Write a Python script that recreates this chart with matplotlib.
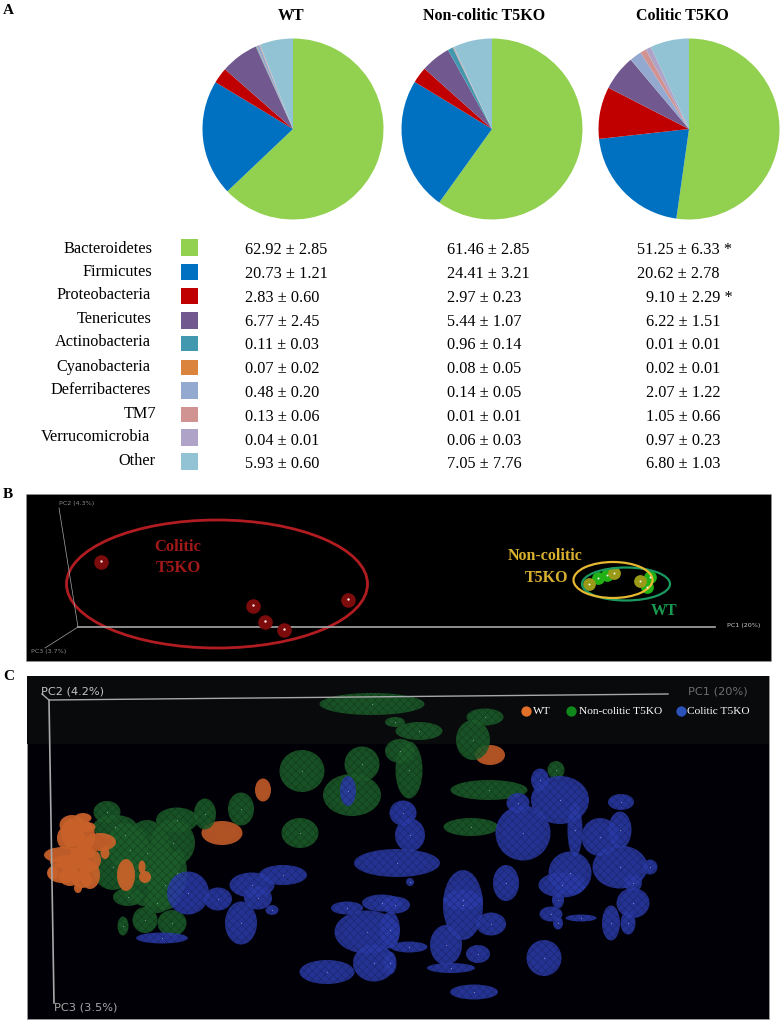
import matplotlib
matplotlib.use("Agg")
import matplotlib.pyplot as plt
from matplotlib.patches import Ellipse, Rectangle

plt.rcParams["font.family"] = ["Liberation Serif", "DejaVu Serif"]
plt.rcParams["hatch.linewidth"] = 0.35

W, H = 782, 1022

phyla = ["Bacteroidetes", "Firmicutes", "Proteobacteria", "Tenericutes", "Actinobacteria",
         "Cyanobacteria", "Deferribacteres", "TM7", "Verrucomicrobia", "Other"]
phylum_colors = ["#92d050", "#0070c0", "#c00000", "#71588f", "#4198af",
                 "#db843d", "#93a9cf", "#d19392", "#b0a3c8", "#92c3d4"]

groups = ["WT", "Non-colitic T5KO", "Colitic T5KO"]
wt_mean = [62.92, 20.73, 2.83, 6.77, 0.11, 0.07, 0.48, 0.13, 0.04, 5.93]
wt_sd = ["2.85", "1.21", "0.60", "2.45", "0.03", "0.02", "0.20", "0.06", "0.01", "0.60"]
nc_mean = [61.46, 24.41, 2.97, 5.44, 0.96, 0.08, 0.14, 0.01, 0.06, 7.05]
nc_sd = ["2.85", "3.21", "0.23", "1.07", "0.14", "0.05", "0.05", "0.01", "0.03", "7.76"]
co_mean = [51.25, 20.62, 9.10, 6.22, 0.01, 0.02, 2.07, 1.05, 0.97, 6.80]
co_sd = ["6.33", "2.78", "2.29", "1.51", "0.01", "0.01", "1.22", "0.66", "0.23", "1.03"]
co_star = [True, False, True, False, False, False, False, False, False, False]

# panel B samples
b_colitic_x = [101, 253, 265, 284, 348]
b_colitic_y = [562, 606, 622, 630, 600]
b_wt_x = [598, 607, 650, 647]
b_wt_y = [578, 575, 577, 587]
b_nc_x = [589, 614, 640]
b_nc_y = [584, 573, 581]

# panel C ellipsoids: x, y, width, height
c_orange_back = [(490, 755, 30, 20), (263, 790, 16, 23), (222, 833, 41, 24)]
c_green = [(372, 704, 105, 22), (419, 731, 47, 18), (395, 722, 20, 10), (400, 751, 30, 24),
           (409, 770, 27, 57), (485, 717, 37, 17), (473, 740, 34, 40), (489, 790, 77, 20),
           (471, 827, 55, 18), (556, 770, 17, 18), (302, 771, 45, 42), (362, 764, 35, 35),
           (352, 795, 58, 42), (300, 833, 37, 30), (241, 809, 26, 33), (205, 814, 22, 31),
           (107, 812, 27, 22), (115, 827, 44, 24), (177, 820, 42, 25), (147, 853, 48, 66),
           (173, 843, 44, 46), (113, 867, 42, 46), (150, 877, 62, 60), (177, 873, 20, 46),
           (128, 897, 30, 18), (157, 903, 26, 20), (145, 920, 25, 26), (172, 923, 29, 26),
           (123, 926, 11, 19), (130, 850, 40, 50), (165, 885, 36, 50), (125, 835, 30, 24)]
c_orange = [(72, 825, 25, 20), (83, 818, 17, 10), (75, 840, 22, 22), (87, 827, 17, 10),
            (100, 842, 32, 18), (63, 855, 38, 16), (83, 853, 25, 13), (62, 873, 30, 20),
            (77, 867, 28, 24), (90, 875, 20, 28), (78, 888, 8, 10), (105, 853, 9, 12),
            (126, 875, 18, 32), (142, 867, 7, 13), (145, 877, 12, 12), (53, 873, 10, 13),
            (72, 833, 22, 28), (70, 877, 22, 18), (85, 836, 20, 30), (88, 860, 26, 24),
            (65, 838, 16, 22), (70, 862, 40, 14), (82, 880, 20, 16)]
c_blue = [(348, 791, 16, 30), (162, 938, 52, 11), (188, 893, 42, 43), (218, 899, 28, 23),
          (241, 923, 32, 43), (252, 885, 45, 25), (283, 875, 48, 20), (258, 898, 28, 23),
          (272, 910, 13, 10), (327, 972, 55, 24), (374, 963, 42, 37), (367, 932, 65, 43),
          (347, 908, 32, 13), (382, 903, 40, 17), (397, 863, 86, 28), (403, 813, 27, 25),
          (410, 835, 30, 33), (410, 882, 8, 8), (395, 905, 30, 17), (390, 930, 20, 37),
          (409, 947, 37, 11), (390, 963, 13, 23), (451, 968, 48, 10), (446, 945, 32, 40),
          (463, 905, 40, 70), (463, 900, 40, 20), (491, 924, 30, 23), (478, 954, 24, 18),
          (506, 883, 26, 36), (474, 992, 48, 15), (544, 958, 35, 36), (523, 833, 55, 55),
          (560, 800, 58, 48), (540, 780, 18, 23), (518, 803, 23, 20), (575, 830, 15, 53),
          (570, 873, 43, 43), (562, 885, 47, 25), (558, 900, 12, 17), (558, 923, 10, 13),
          (551, 914, 23, 15), (581, 918, 31, 7), (611, 923, 18, 35), (628, 923, 15, 23),
          (633, 903, 33, 30), (633, 883, 18, 17), (620, 867, 55, 43), (650, 867, 15, 15),
          (600, 837, 37, 38), (620, 830, 23, 37), (621, 802, 26, 16)]

fig = plt.figure(figsize=(W / 100, H / 100), dpi=100)
ax = fig.add_axes([0, 0, 1, 1])
ax.set_xlim(0, W)
ax.set_ylim(H, 0)
ax.axis("off")


def pie_at(cx, cy, r, values):
    pax = fig.add_axes([(cx - r) / W, 1 - (cy + r) / H, 2 * r / W, 2 * r / H])
    pax.pie(values, colors=phylum_colors, startangle=90, counterclock=False, radius=1)
    pax.set_xlim(-1, 1)
    pax.set_ylim(-1, 1)
    pax.set_aspect("auto")


pie_at(293, 129, 90.5, wt_mean)
pie_at(492, 129, 90.5, nc_mean)
pie_at(689, 129, 90.5, co_mean)

ax.text(3, 10, "A", fontsize=11, fontweight="bold", va="center")
ax.text(3, 494, "B", fontsize=11, fontweight="bold", va="center")
ax.text(3, 676, "C", fontsize=11, fontweight="bold", va="center")
for x, name in zip([291, 484, 682], groups):
    ax.text(x, 16, name, fontsize=11.5, fontweight="bold", ha="center", va="center")

# table under the pies
label_right = [152, 152, 151, 152, 151, 150, 151, 156, 150, 155]
label_y = [249, 272, 295, 319, 342, 367, 390, 414, 437, 461]
row_y = [250, 274, 298, 322, 345, 369, 393, 417, 441, 464]
swatch_top = [239, 264, 288, 312, 336, 360, 382, 407, 429, 453]
swatch_h = [17, 16, 16, 17, 15, 15, 17, 15, 17, 17]
co_x = [637, 637, 646, 646, 646, 646, 646, 646, 646, 646]
for i, name in enumerate(phyla):
    ax.text(label_right[i], label_y[i], name, fontsize=11.7, ha="right", va="center")
    ax.add_patch(Rectangle((181, swatch_top[i]), 17, swatch_h[i],
                           fc=phylum_colors[i], ec="none"))
    ax.text(245, row_y[i], "%.2f ± %s" % (wt_mean[i], wt_sd[i]), fontsize=11.7, va="center")
    ax.text(447, row_y[i], "%.2f ± %s" % (nc_mean[i], nc_sd[i]), fontsize=11.7, va="center")
    txt = "%.2f ± %s" % (co_mean[i], co_sd[i])
    if co_star[i]:
        txt += " *"
    ax.text(co_x[i], row_y[i], txt, fontsize=11.7, va="center")

# panel B
ax.add_patch(Rectangle((26, 494), 745, 167, fc="black", ec="#999999", lw=0.4))
for x0, y0, x1, y1 in [(78, 627, 715, 627), (78, 627, 59, 508), (78, 627, 45, 648)]:
    ax.plot([x0, x1], [y0, y1], color="#a8a8a8", lw=1.2 if y0 == y1 else 0.5)
sans = ["DejaVu Sans"]
ax.text(59, 503, "PC2 (4.3%)", color="#8a8a8a", fontsize=4.6, family=sans, va="center")
ax.text(727, 625, "PC1 (20%)", color="#cccccc", fontsize=4.6, family=sans, va="center")
ax.text(31, 652, "PC3 (3.7%)", color="#8a8a8a", fontsize=4.6, family=sans, va="center")
ax.add_patch(Ellipse((217, 584), 301, 128, fc="none", ec="#b01c20", lw=2))
ax.scatter(b_wt_x, b_wt_y, s=85, color="#22b014", lw=0, zorder=3)
ax.scatter(b_nc_x, b_nc_y, s=85, color="#9a9a18", lw=0, zorder=3)
ax.scatter(b_colitic_x, b_colitic_y, s=110, color="#7c0c0c", lw=0, zorder=3)
ax.scatter(b_colitic_x, [v - 1 for v in b_colitic_y], s=3, color="#ffe8e8", lw=0, zorder=4)
ax.scatter(b_wt_x + b_nc_x, b_wt_y + b_nc_y, s=2, color="#f4fff0", lw=0, zorder=4)
ax.add_patch(Ellipse((626, 584), 88, 33, fc="none", ec="#1a9a60", lw=1.6, zorder=3))
ax.add_patch(Ellipse((613, 580), 79, 36, fc="none", ec="#e8b830", lw=1.6, zorder=3))
ax.text(178, 547, "Colitic", color="#a01818", fontsize=12, fontweight="bold", ha="center", va="center")
ax.text(178, 568, "T5KO", color="#a01818", fontsize=12, fontweight="bold", ha="center", va="center")
ax.text(545, 556, "Non-colitic", color="#d8b030", fontsize=11.5, fontweight="bold", ha="center", va="center")
ax.text(568, 578, "T5KO", color="#d8b030", fontsize=11.5, fontweight="bold", ha="right", va="center")
ax.text(664, 611, "WT", color="#1a9a50", fontsize=11.5, fontweight="bold", ha="center", va="center")

# panel C
ax.add_patch(Rectangle((27, 676), 742, 343, fc="#000006", ec="#9a9a9a", lw=0.6))
ax.add_patch(Rectangle((27, 676), 742, 68, fc="#080a0b", ec="none"))


def blobs(items, face, mesh, alpha, z):
    for x, y, w, h in items:
        ax.add_patch(Ellipse((x, y), w, h, fc=face, ec="none", alpha=alpha, zorder=z))
        ax.add_patch(Ellipse((x, y), w * 0.75, h * 0.75, fc=face, ec="none", alpha=0.25, zorder=z))
        if mesh:
            ax.add_patch(Ellipse((x, y), w, h, fc="none", ec=(0, 0, 0, 0.3), hatch="xxxx",
                                 lw=0, zorder=z))
    xs = [it[0] for it in items]
    ys = [it[1] for it in items]
    if mesh:
        ax.scatter(xs, ys, s=0.8, color="#cfe0ff", alpha=0.5, lw=0, zorder=z)


blobs(c_orange_back, "#b85626", False, 0.95, 3)
blobs(c_green, "#1c5c2a", True, 0.85, 4)
blobs(c_blue, "#2a3aa6", True, 0.85, 5)
blobs(c_orange, "#c9622a", False, 0.92, 6)

ax.plot([668, 49, 42], [694, 700, 694], color="#a8a8a8", lw=1, zorder=7)
ax.plot([49, 54], [700, 1003], color="#a8a8a8", lw=1.2, zorder=7)
ax.text(41, 692, "PC2 (4.2%)", color="#c4c4c4", fontsize=8.2, family=sans, va="center", zorder=8)
ax.text(54, 1008, "PC3 (3.5%)", color="#a8a8a8", fontsize=8.2, family=sans, va="center", zorder=8)
ax.text(688, 691, "PC1 (20%)", color="#6e6e6e", fontsize=8.2, family=sans, va="center", zorder=8)

legend_x = [526, 571, 681]
legend_text_x = [533, 579, 687]
legend_colors = ["#e2702a", "#10881c", "#2a52b8"]
for mx, tx, col, name in zip(legend_x, legend_text_x, legend_colors, groups):
    ax.scatter([mx], [711], s=55, color=col, lw=0, zorder=8)
    ax.text(tx, 711, name, color="white", fontsize=8.2, va="center", zorder=8)

fig.savefig("out.png", dpi=100)
